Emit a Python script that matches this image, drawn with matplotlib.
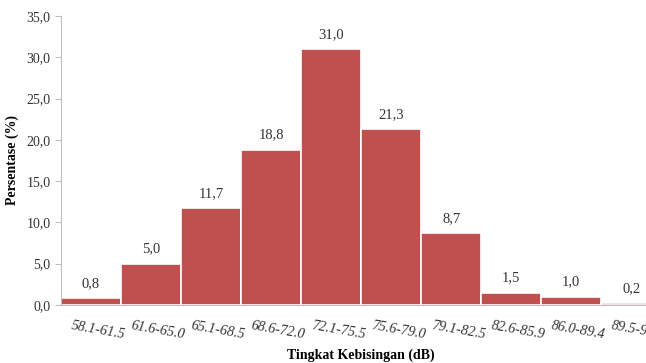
import matplotlib.pyplot as plt
import numpy as np

# data
kelas = ['58.1-61.5', '61.6-65.0', '65.1-68.5', '68.6-72.0', '72.1-75.5',
         '75.6-79.0', '79.1-82.5', '82.6-85.9', '86.0-89.4', '89.5-92.9']
persen = [0.8, 5.0, 11.7, 18.8, 31.0, 21.3, 8.7, 1.5, 1.0, 0.2]

plt.rcParams['font.family'] = ['Liberation Serif', 'DejaVu Serif']

fig = plt.figure(figsize=(6.46, 3.63), dpi=100)
ax = fig.add_axes([0.0944, 0.16, 0.929, 0.796])

x = np.arange(len(kelas))
ax.bar(x, persen, width=1.0, color='#C0504D', edgecolor='white', linewidth=1.2)

for xi, v in zip(x, persen):
    ax.text(xi, v + 1.0, f'{v:.1f}'.replace('.', ','), ha='center', va='bottom',
            fontsize=10.5, color='#333333')

ax.set_xlim(-0.5, len(kelas) - 0.5)
ax.set_ylim(0, 35)
ax.set_yticks(np.arange(0, 36, 5))
ax.set_yticklabels([f'{t:.1f}'.replace('.', ',') for t in np.arange(0, 36, 5)],
                   fontsize=10, color='#333333')
ax.set_xticks(x + 0.12)
ax.set_xticklabels(kelas, fontsize=10.2, style='italic', rotation=-10,
                   ha='center', color='#333333')
ax.tick_params(axis='x', length=0, pad=10)
ax.tick_params(axis='y', length=4, color='#BFBFBF')

for s in ['top', 'right']:
    ax.spines[s].set_visible(False)
ax.spines['left'].set_color('#BFBFBF')
ax.spines['bottom'].set_color('#BFBFBF')

ax.set_ylabel('Persentase (%)', fontsize=10, fontweight='bold', labelpad=5)
ax.set_xlabel('Tingkat Kebisingan (dB)', fontsize=10, fontweight='bold', labelpad=5)

fig.savefig('out.png', dpi=100)
